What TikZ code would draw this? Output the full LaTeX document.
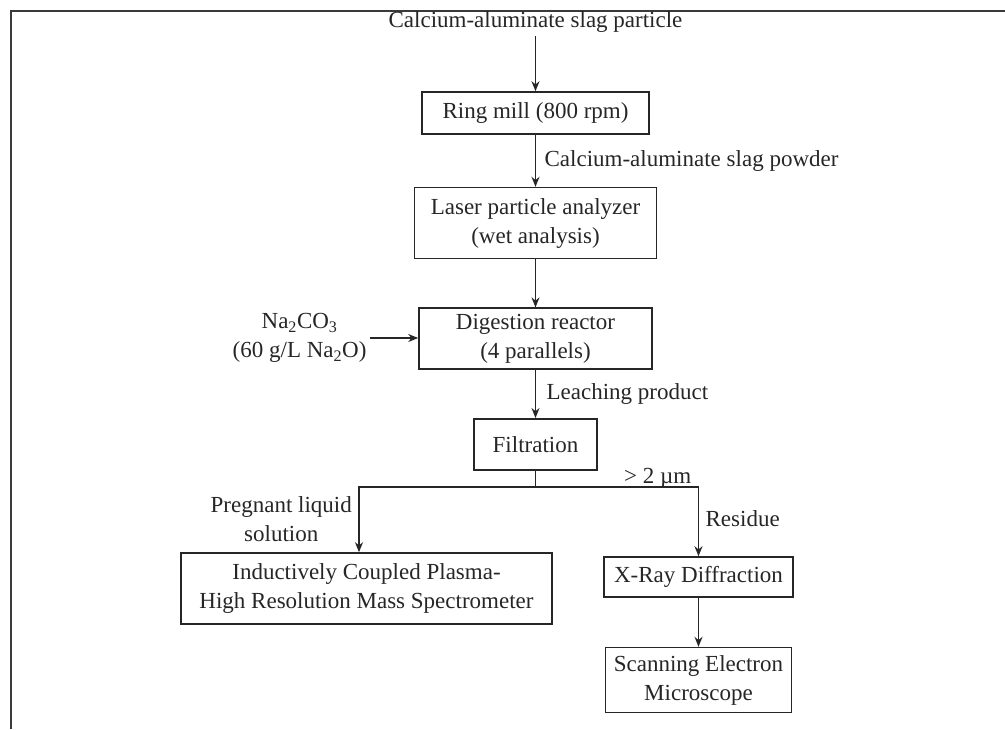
\documentclass[tikz,border=0pt]{standalone}
\usepackage{fontspec}
\setmainfont{Liberation Serif}
\usetikzlibrary{arrows.meta, positioning}
\definecolor{ink}{HTML}{262626}
\definecolor{rule}{HTML}{3A3A3A}

\begin{document}
\begin{tikzpicture}[
        x=1pt, y=-1pt,
        node distance=50pt,
        box/.style={rectangle, draw=ink, line width=1.6pt, inner sep=0pt, align=center,
                    text=ink, font=\fontsize{23}{29}\selectfont},
        lbl/.style={align=center, text=ink, font=\fontsize{23}{29}\selectfont},
        arr/.style={-{Stealth[length=10pt, width=8pt]}, line width=1.6pt, ink}
      ]
        \useasboundingbox (0,0) rectangle (1005,729);
        \draw[rule, line width=2pt] (11,729) -- (11,11) -- (1005,11);

        \node[lbl] (feed) at (535.5,22) {Calcium-aluminate slag particle};
        \node[box, minimum width=227pt, minimum height=42pt] (ring) at (535.5,113) {Ring mill (800 rpm)};
        \node[box, minimum width=242pt, minimum height=71pt, below=52pt of ring] (laser) {Laser particle analyzer\\(wet analysis)};
        \node[box, minimum width=233pt, minimum height=61pt, below=48pt of laser] (dig) {Digestion reactor\\(4 parallels)};
        \node[lbl, anchor=east] (soda) at (370,338) {Na\textsubscript{2}CO\textsubscript{3}\\(60 g/L Na\textsubscript{2}O)};
        \node[box, minimum width=123pt, minimum height=51pt, below=48pt of dig] (filt) {Filtration};
        \node[box, minimum width=371pt, minimum height=71pt] (icp) at (366.5,588.5) {Inductively Coupled Plasma-\\High Resolution Mass Spectrometer};
        \node[box, minimum width=189pt, minimum height=40pt] (xrd) at (698.5,577) {X-Ray Diffraction};
        \node[box, minimum width=186pt, minimum height=65pt, below=49pt of xrd] (sem) {Scanning Electron\\Microscope};

        % split point under the filter
        \coordinate (split) at (535.5,487);
        \coordinate (lbr) at (359,487);
        \coordinate (rbr) at (split -| xrd);

        \draw[arr] (feed) -- (ring);
        \draw[arr] (ring) -- node[lbl, right=5pt] (powder) {Calcium-aluminate slag powder} (laser);
        \draw[arr] (laser) -- (dig);
        \draw[arr] (soda.east) -- (soda.east -| dig.west);
        \draw[arr] (dig) -- node[lbl, right=7pt] (leach) {Leaching product} (filt);
        \draw[line width=1.6pt, ink] (filt) -- (split);
        \draw[arr] (split) -- (lbr) -- node[lbl, left=3pt] (liquor) {Pregnant liquid\\solution} (lbr |- icp.north);
        \draw[arr] (split) -- node[lbl, pos=0.75, anchor=base, yshift=4pt] (cut) {> 2 µm} (rbr)
                   -- node[lbl, pos=0.45, right=3pt] (res) {Residue} (xrd);
        \draw[arr] (xrd) -- (sem);
      \end{tikzpicture}
\end{document}
